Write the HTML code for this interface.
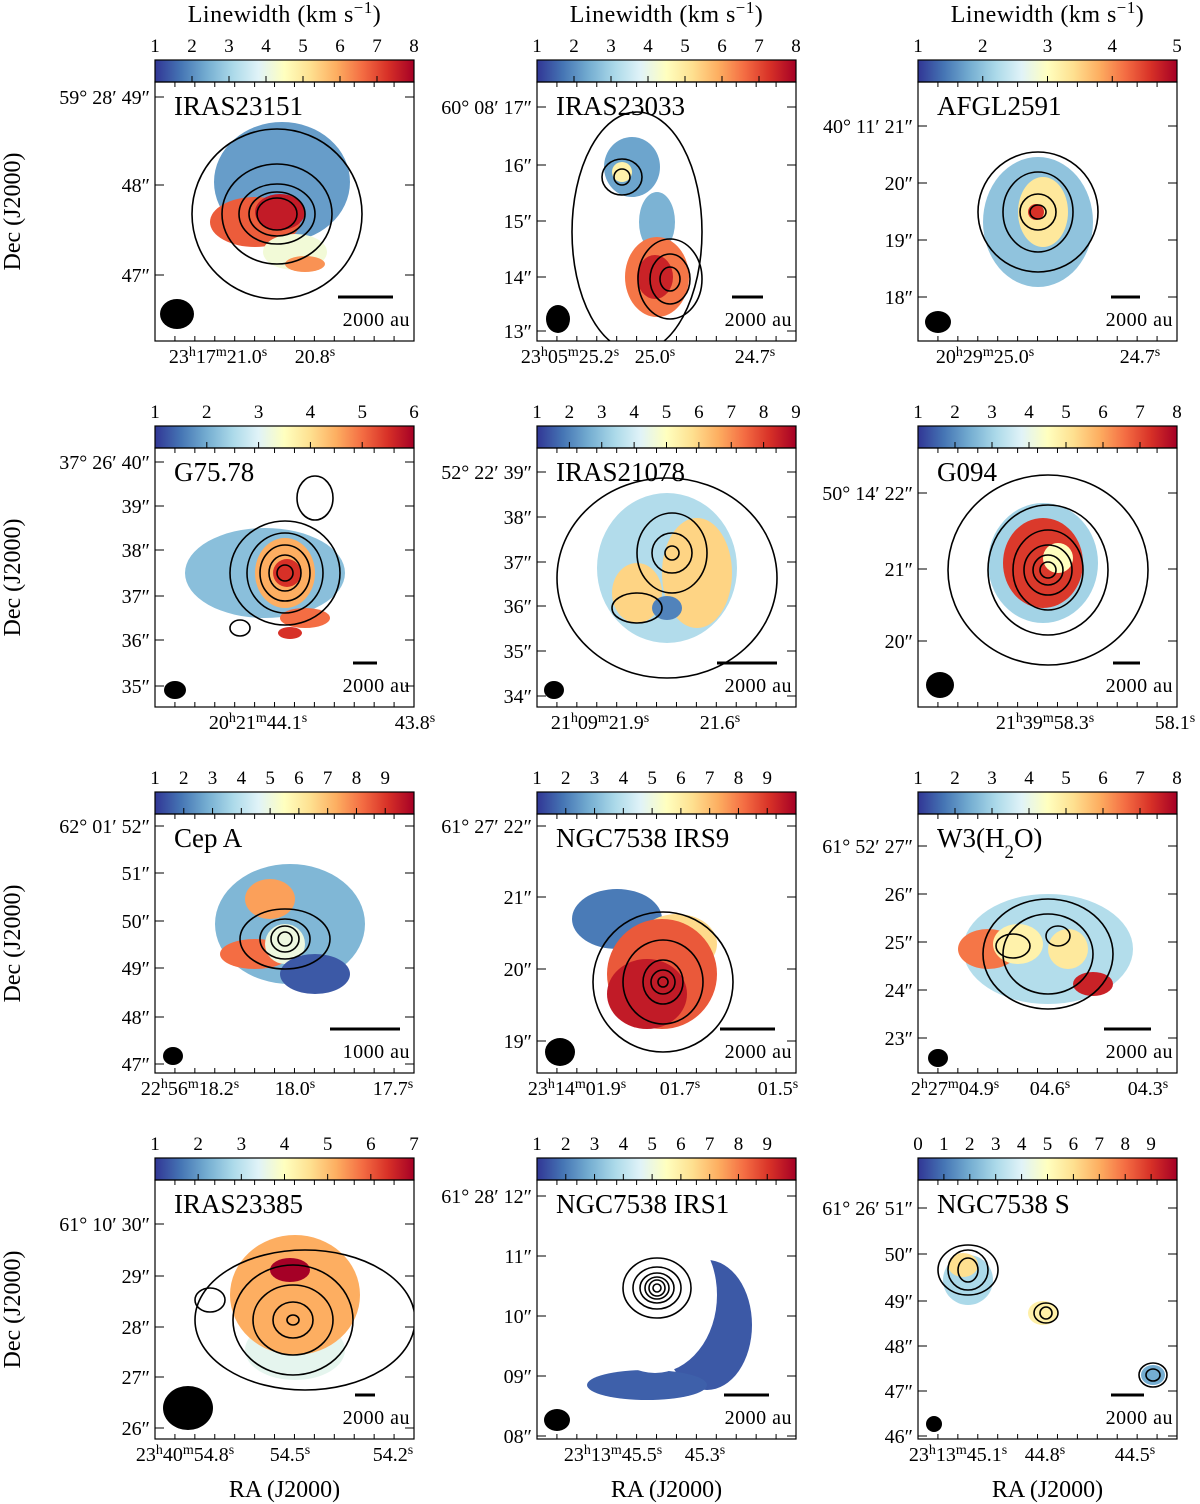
<!DOCTYPE html>
<html><head><meta charset="utf-8">
<style>
html,body{margin:0;padding:0;background:#fff;}
svg{display:block;font-family:"Liberation Serif","DejaVu Serif",serif;}
</style></head>
<body>
<svg id="fig" width="1200" height="1504" viewBox="0 0 1200 1504" xmlns="http://www.w3.org/2000/svg">
<defs>
<linearGradient id="cmap" x1="0" x2="1" y1="0" y2="0">
<stop offset="0" stop-color="#313695"/><stop offset="0.1" stop-color="#4575b4"/><stop offset="0.2" stop-color="#74add1"/><stop offset="0.3" stop-color="#abd9e9"/><stop offset="0.4" stop-color="#e0f3f8"/><stop offset="0.5" stop-color="#ffffbf"/><stop offset="0.6" stop-color="#fee090"/><stop offset="0.7" stop-color="#fdae61"/><stop offset="0.8" stop-color="#f46d43"/><stop offset="0.9" stop-color="#d73027"/><stop offset="1" stop-color="#a50026"/>
</linearGradient>
</defs>
</svg>
<script>
const panelNames=["IRAS23151","IRAS23033","AFGL2591","G75.78","IRAS21078","G094","Cep A","NGC7538 IRS9","W3(H_2O)","IRAS23385","NGC7538 IRS1","NGC7538 S"];
const cbMin=[1,1,1,1,1,1,1,1,1,1,1,0];
const cbMax=[8,8,5,6,9,8,10,10,8,7,10,10];
const cbTickMax=[8,8,5,6,9,8,9,9,8,7,9,9];
const decLabels=[
[["59° 28′ 49″",97],["48″",185],["47″",275]],
[["60° 08′ 17″",107],["16″",165],["15″",221],["14″",277],["13″",331]],
[["40° 11′ 21″",126],["20″",183],["19″",240],["18″",297]],
[["37° 26′ 40″",462],["39″",506],["38″",550],["37″",596],["36″",640],["35″",686]],
[["52° 22′ 39″",472],["38″",517],["37″",562],["36″",606],["35″",651],["34″",696]],
[["50° 14′ 22″",493],["21″",569],["20″",641]],
[["62° 01′ 52″",826],["51″",873],["50″",921],["49″",968],["48″",1017],["47″",1064]],
[["61° 27′ 22″",826],["21″",897],["20″",969],["19″",1041]],
[["61° 52′ 27″",846],["26″",894],["25″",942],["24″",990],["23″",1038]],
[["61° 10′ 30″",1224],["29″",1276],["28″",1327],["27″",1377],["26″",1428]],
[["61° 28′ 12″",1196],["11″",1256],["10″",1316],["09″",1376],["08″",1436]],
[["61° 26′ 51″",1208],["50″",1254],["49″",1301],["48″",1346],["47″",1391],["46″",1436]]];
const raLabels=[
[["23^h17^m21.0^s",218],["20.8^s",315]],
[["23^h05^m25.2^s",570],["25.0^s",655],["24.7^s",755]],
[["20^h29^m25.0^s",985],["24.7^s",1140]],
[["20^h21^m44.1^s",258],["43.8^s",415]],
[["21^h09^m21.9^s",600],["21.6^s",720]],
[["21^h39^m58.3^s",1045],["58.1^s",1175]],
[["22^h56^m18.2^s",190],["18.0^s",295],["17.7^s",393]],
[["23^h14^m01.9^s",577],["01.7^s",680],["01.5^s",778]],
[["2^h27^m04.9^s",955],["04.6^s",1050],["04.3^s",1148]],
[["23^h40^m54.8^s",185],["54.5^s",290],["54.2^s",393]],
[["23^h13^m45.5^s",613],["45.3^s",705]],
[["23^h13^m45.1^s",958],["44.8^s",1045],["44.5^s",1135]]];
const scaleLabels=["2000 au","2000 au","2000 au","2000 au","2000 au","2000 au","1000 au","2000 au","2000 au","2000 au","2000 au","2000 au"];
// linewidth emission blobs: [cx, cy, rx, ry, linewidth] in map pixels
const blobs=[
[[127,100,68,60,2.2],[100,140,45,25,6.8],[125,130,25,18,7.6],[140,170,32,18,4.2],[150,182,20,8,6.2]],
[[120,140,18,30,2.5],[95,85,28,30,2.3],[85,90,10,10,4.8],[120,195,32,40,6.5],[118,195,18,22,7.5]],
[[120,140,55,65,2.0],[125,130,25,35,3.3],[118,130,8,8,4.6]],
[[110,125,80,45,2.2],[130,125,30,35,4.5],[132,125,14,14,5.5],[150,170,25,10,5.0],[135,185,12,6,5.5]],
[[130,120,70,75,3.5],[160,125,35,55,6],[100,145,25,30,6.0],[130,160,15,12,2]],
[[125,115,55,60,3],[125,115,40,45,7.2],[140,110,15,15,4.5]],
[[135,110,75,60,3],[115,85,25,20,7.5],[100,140,35,15,8.2],[130,130,20,20,5],[160,160,35,20,1.5]],
[[80,105,45,30,2],[140,130,40,30,6.5],[125,160,55,55,8.5],[110,180,40,35,9.5]],
[[130,135,85,55,3.2],[70,135,30,20,6.5],[100,130,25,20,4.8],[150,135,20,20,5],[175,170,20,12,7.5]],
[[140,170,50,30,3.5],[140,115,65,60,5.2],[135,90,20,12,7.5]],
[[170,145,45,65,1.5],[110,205,60,15,1.6]],
[[50,100,25,25,3],[45,85,15,12,6],[125,133,15,12,5.5],[235,195,12,10,2]]];
const contours=[
[[122,132,20,16],[122,132,28,22],[122,132,38,30],[122,132,55,50],[122,132,85,85]],
[[85,95,8,8],[85,95,20,18],[133,197,10,12],[133,197,20,25],[133,197,32,40],[100,150,65,120]],
[[120,130,8,7],[120,130,18,18],[120,130,35,40],[120,130,60,60]],
[[130,125,8,8],[130,125,16,18],[130,125,25,28],[130,125,38,40],[130,125,55,52],[160,50,18,22],[85,180,10,8]],
[[135,105,7,7],[135,105,20,20],[135,105,35,40],[100,160,25,15],[130,130,110,100]],
[[130,122,8,8],[130,122,15,15],[130,122,24,25],[130,122,35,40],[130,122,60,65],[130,122,100,95]],
[[130,125,7,7],[130,125,14,13],[130,125,25,20],[130,125,45,30]],
[[126,168,5,5],[126,168,12,12],[126,168,20,22],[126,168,40,42],[126,168,70,70]],
[[130,140,65,55],[130,140,45,40],[95,132,17,12],[140,122,12,10]],
[[138,140,6,5],[138,140,20,18],[138,140,40,35],[138,140,60,55],[150,140,110,70],[55,120,15,12]],
[[120,108,4,4],[120,108,8,8],[120,108,12,11],[120,108,17,15],[120,108,24,21],[120,108,34,30]],
[[50,90,10,12],[50,90,20,20],[50,90,30,25],[128,133,6,6],[128,133,12,10],[235,195,7,6],[235,195,14,12]]];
const beams=[[22,232,17,15],[21,237,12,14],[20,240,13,11],[20,242,11,9],[17,242,10,9],[22,237,14,13],[18,242,10,9],[23,238,15,14],[20,244,10,9],[33,228,25,22],[20,240,13,11],[16,244,8,8]];
const scaleBars=[[183,238],[195,226],[193,222],[198,222],[180,240],[195,222],[175,245],[183,238],[186,233],[200,220],[187,232],[193,226]];

const NS="http://www.w3.org/2000/svg";
const svg=document.getElementById('fig');
const colX=[155,537,918], cbTop=[60,426,792,1158], W=259, CBH=22;
const stops=[[49,54,149],[69,117,180],[116,173,209],[171,217,233],[224,243,248],[255,255,191],[254,224,144],[253,174,97],[244,109,67],[215,48,39],[165,0,38]];
function cmap(t){t=Math.max(0,Math.min(1,t));const f=t*10,i=Math.min(9,Math.floor(f)),u=f-i;const a=stops[i],b=stops[i+1];return `rgb(${a.map((v,k)=>Math.round(v+(b[k]-v)*u)).join(',')})`;}
function mk(tag,attrs,parent){const e=document.createElementNS(NS,tag);for(const k in attrs)e.setAttribute(k,attrs[k]);(parent||svg).appendChild(e);return e;}
function supText(parent,str,x,y,anchor,size){
  const t=mk('text',{x:x,y:y,'text-anchor':anchor,'font-size':size,fill:'#000'},parent);
  const parts=str.split(/(\^.|_.)/);
  parts.forEach(p=>{if(!p)return;const s=document.createElementNS(NS,'tspan');
    if(p[0]==='^'){s.setAttribute('baseline-shift','super');s.setAttribute('font-size',size*0.7);s.textContent=p[1];}
    else if(p[0]==='_'){s.setAttribute('baseline-shift','sub');s.setAttribute('font-size',size*0.7);s.textContent=p[1];}
    else s.textContent=p;t.appendChild(s);});
  return t;}

for(let c=0;c<3;c++){
  const t=supText(svg,'Linewidth (km s^−^1)',colX[c]+W/2,22,'middle',24);
  
  
  t.setAttribute('letter-spacing','0.5');
}
for(let r=0;r<4;r++){
  const t=mk('text',{x:0,y:0,'text-anchor':'middle','font-size':24,transform:`translate(20,${cbTop[r]+22+W/2}) rotate(-90)`});
  t.textContent='Dec (J2000)';
  
  
}
for(let c=0;c<3;c++){
  const t=mk('text',{x:colX[c]+W/2,y:1497,'text-anchor':'middle','font-size':24});
  t.textContent='RA (J2000)';
  
  
}

for(let p=0;p<12;p++){
  const c=p%3,r=Math.floor(p/3),x0=colX[c],cy0=cbTop[r],y0=cy0+CBH;
  const g=mk('g',{});
  
  
  const cb=mk('rect',{x:x0,y:cy0,width:W,height:CBH,fill:'url(#cmap)',stroke:'#000','stroke-width':1.2},g);
  
  
  const sx=v=>x0+(v-cbMin[p])/(cbMax[p]-cbMin[p])*W;
  for(let v=cbMin[p];v<=cbTickMax[p];v++){
    const X=sx(v);
    mk('line',{x1:X,x2:X,y1:cy0+CBH,y2:cy0+CBH-6,stroke:'#000','stroke-width':1},g);
    const t=mk('text',{x:X,y:cy0-8,'text-anchor':'middle','font-size':19},g);
    t.textContent=v;
    
    
  }
  const clipId='clip'+p;
  const cp=mk('clipPath',{id:clipId},g);mk('rect',{x:x0,y:y0,width:W,height:W},cp);
  const mg=mk('g',{'clip-path':`url(#${clipId})`},g);
  blobs[p].forEach(b=>{
    const e=mk('ellipse',{cx:x0+b[0],cy:y0+b[1],rx:b[2],ry:b[3],fill:cmap((b[4]-cbMin[p])/(cbMax[p]-cbMin[p]))},mg);
    
    
  });
  if(p===10){mk('ellipse',{cx:x0+118,cy:y0+115,rx:62,ry:78,fill:'#fff'},mg);}
  contours[p].forEach(k=>{
    const e=mk('ellipse',{cx:x0+k[0],cy:y0+k[1],rx:k[2],ry:k[3],fill:'none',stroke:'#000','stroke-width':1.6},mg);
    
    
  });
  const bm=beams[p];
  const be=mk('ellipse',{cx:x0+bm[0],cy:y0+bm[1],rx:bm[2],ry:bm[3],fill:'#000'},g);
  
  
  const sb=scaleBars[p];
  const sl=mk('line',{x1:x0+sb[0],x2:x0+sb[1],y1:y0+215,y2:y0+215,stroke:'#000','stroke-width':3},g);
  
  
  const st=mk('text',{x:x0+W-4,y:y0+244,'text-anchor':'end','font-size':20,'letter-spacing':'0.5'},g);
  st.textContent=scaleLabels[p];
  
  
  mk('rect',{x:x0,y:y0,width:W,height:W,fill:'none',stroke:'#000','stroke-width':1.2},g);
  for(let i=1;i<13;i++){const X=x0+i*W/13;mk('line',{x1:X,x2:X,y1:y0,y2:y0+5,stroke:'#000'},g);mk('line',{x1:X,x2:X,y1:y0+W,y2:y0+W-5,stroke:'#000'},g);}
  const nm=supText(g,panelNames[p],x0+19,y0+33,'start',27);
  
  
  decLabels[p].forEach(d=>{
    mk('line',{x1:x0,x2:x0+9,y1:d[1],y2:d[1],stroke:'#000'},g);
    mk('line',{x1:x0+W,x2:x0+W-9,y1:d[1],y2:d[1],stroke:'#000'},g);
    const t=mk('text',{x:x0-5,y:d[1]+7,'text-anchor':'end','font-size':20},g);
    t.textContent=d[0];
    
    
  });
  raLabels[p].forEach(a=>{
    const t=supText(g,a[0],a[1],y0+W+22,'middle',20);
    
    
  });
}
</script>
</body></html>
